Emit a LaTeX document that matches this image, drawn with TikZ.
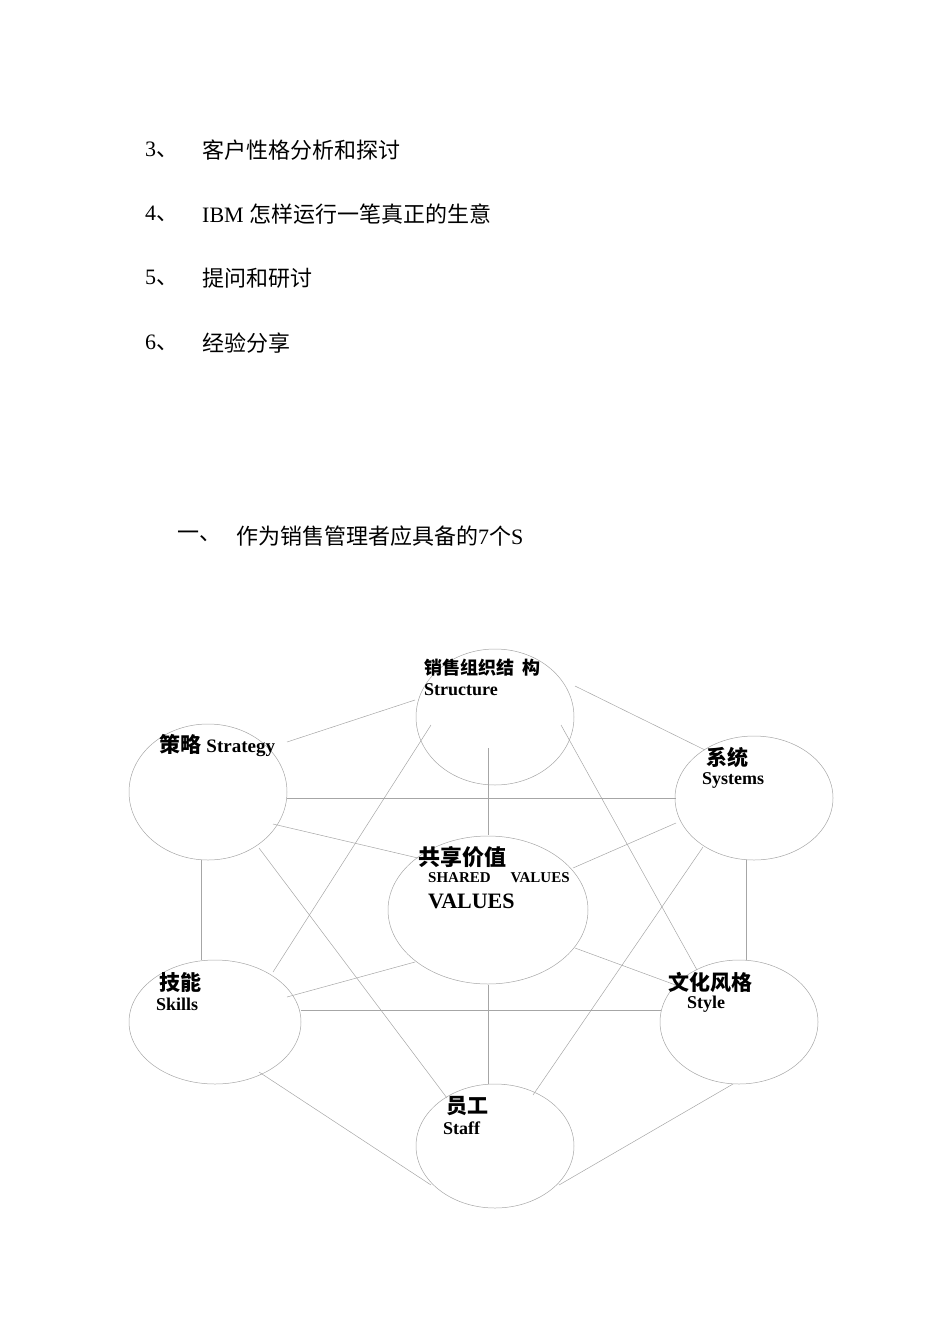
\documentclass[tikz,border=0pt]{standalone}
\usepackage{fontspec}
\setmainfont{Liberation Serif}
\newfontfamily\cjk{Noto Sans CJK SC}
\begin{document}
\begin{tikzpicture}[x=1pt,y=-1pt,
  ln/.style={draw=black!35,line width=0.5pt},
  tx/.style={anchor=west,inner sep=0pt,font=\fontsize{22}{26}\selectfont},
  lb/.style={anchor=west,inner sep=0pt,font=\fontsize{21}{24}\selectfont\bfseries},
  lc/.style={anchor=west,inner sep=0pt,font=\fontsize{18}{21}\selectfont\bfseries}]
\useasboundingbox (0,0) rectangle (950,1344);
% top list
\node[tx] (n3) at (145,150) {3{\cjk 、}};
\node[tx] (t3) at (202,150) {\cjk 客户性格分析和探讨};
\node[tx] (n4) at (145,214) {4{\cjk 、}};
\node[tx] (t4) at (202,214) {IBM {\cjk 怎样运行一笔真正的生意}};
\node[tx] (n5) at (145,278) {5{\cjk 、}};
\node[tx] (t5) at (202,278) {\cjk 提问和研讨};
\node[tx] (n6) at (145,343) {6{\cjk 、}};
\node[tx] (t6) at (202,343) {\cjk 经验分享};
\node[tx] (h1) at (177,536) {\cjk 一、};
\node[tx] (h2) at (236,536) {{\cjk 作为销售管理者应具备的}7{\cjk 个}S};
% ellipses
\draw[ln] (495,717) ellipse [x radius=79,y radius=68]; \coordinate (st) at (495,717);
\draw[ln] (208,792) ellipse [x radius=79,y radius=68]; \coordinate (sg) at (208,792);
\draw[ln] (754,798) ellipse [x radius=79,y radius=62]; \coordinate (sy) at (754,798);
\draw[ln] (488,910) ellipse [x radius=100,y radius=74]; \coordinate (sv) at (488,910);
\draw[ln] (215,1022) ellipse [x radius=86,y radius=62]; \coordinate (sk) at (215,1022);
\draw[ln] (739,1022) ellipse [x radius=79,y radius=62]; \coordinate (sl) at (739,1022);
\draw[ln] (495,1146) ellipse [x radius=79,y radius=62]; \coordinate (sf) at (495,1146);
% connectors
\draw[ln] ([shift={(-80,-17)}]st) -- ([shift={(79,-50)}]sg);
\draw[ln] ([shift={(80,-31)}]st) -- ([shift={(-49,-48)}]sy);
\draw[ln] ([shift={(79,6)}]sg) -- ([shift={(-78,0)}]sy);
\draw[ln] ([shift={(-7,31)}]st) -- ([shift={(0,-75)}]sv);
\draw[ln] ([shift={(-64,8)}]st) -- ([shift={(58,-50)}]sk);
\draw[ln] ([shift={(66,8)}]st) -- ([shift={(-42,-52)}]sl);
\draw[ln] ([shift={(65,32)}]sg) -- ([shift={(-70,-52)}]sv);
\draw[ln] ([shift={(51,56)}]sg) -- ([shift={(-48,-48)}]sf);
\draw[ln] ([shift={(-7,68)}]sg) -- ([shift={(-14,-62)}]sk);
\draw[ln] ([shift={(-78,25)}]sy) -- ([shift={(85,-42)}]sv);
\draw[ln] ([shift={(-51,49)}]sy) -- ([shift={(38,-51)}]sf);
\draw[ln] ([shift={(-8,62)}]sy) -- ([shift={(7,-62)}]sl);
\draw[ln] ([shift={(-73,52)}]sv) -- ([shift={(72,-25)}]sk);
\draw[ln] ([shift={(87,38)}]sv) -- ([shift={(-58,-35)}]sl);
\draw[ln] ([shift={(0,75)}]sv) -- ([shift={(-7,-62)}]sf);
\draw[ln] ([shift={(86,-12)}]sk) -- ([shift={(-78,-12)}]sl);
\draw[ln] ([shift={(44,50)}]sk) -- ([shift={(-64,39)}]sf);
\draw[ln] ([shift={(-6,62)}]sl) -- ([shift={(64,39)}]sf);
% labels
\node[lb,font=\fontsize{18}{21}\selectfont\bfseries] (l1) at (424,668) {\cjk 销售组织结\ \ 构};
\node[lc] (l1e) at (424,690) {Structure};
\node[lb] (l2) at (159,746) {{\cjk 策略} \fontsize{19}{22}\selectfont Strategy};
\node[lb] (l3) at (706,757) {\cjk 系统};
\node[lc] (l3e) at (702,780) {Systems};
\node[lb,font=\fontsize{22}{25}\selectfont\bfseries] (l4) at (418,857) {\cjk 共享价值};
\node[lc,font=\fontsize{15}{17}\selectfont\bfseries] (l4e) at (428,878) {SHARED\hspace{20pt}VALUES};
\node[lb,font=\fontsize{22}{25}\selectfont\bfseries] (l4f) at (428,901) {VALUES};
\node[lb] (l5) at (159,982) {\cjk 技能};
\node[lc] (l5e) at (156,1004) {Skills};
\node[lb] (l6) at (668,982) {\cjk 文化风格};
\node[lc] (l6e) at (687,1004) {Style};
\node[lb] (l7) at (446,1106) {\cjk 员工};
\node[lc] (l7e) at (443,1128) {Staff};
\end{tikzpicture}
\end{document}
